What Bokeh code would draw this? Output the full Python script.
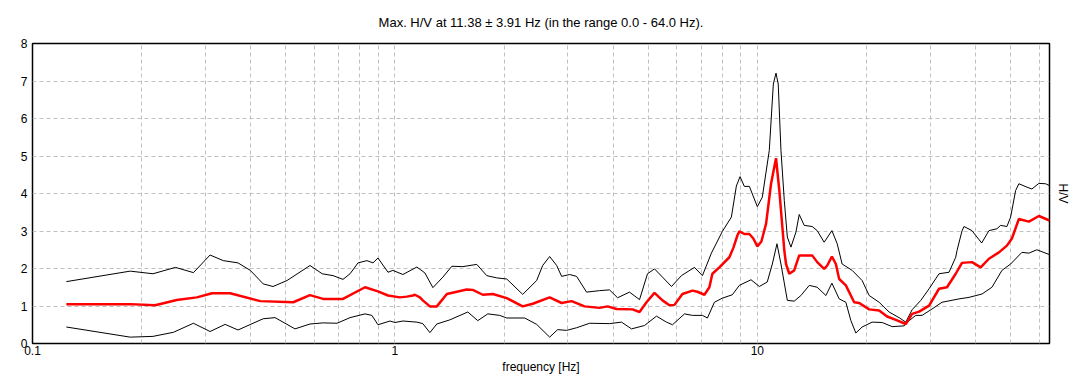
from bokeh.plotting import figure
from bokeh.models import FixedTicker, CustomJSTickFormatter, Range1d, LinearAxis
from bokeh.embed import file_html
from bokeh.resources import INLINE

# ---- data ----
title_text = "Max. H/V at 11.38 \u00b1 3.91 Hz (in the range 0.0 - 64.0 Hz)."
x_label = "frequency [Hz]"
y_label = "H/V"
x_tick_labels = [0.1, 1, 10]
y_ticks = [0, 1, 2, 3, 4, 5, 6, 7, 8]
x_grid = [0.2, 0.3, 0.4, 0.5, 0.6, 0.7, 0.8, 0.9, 1, 2, 3, 4, 5, 6, 7, 8, 9, 10, 20, 30, 40, 50, 60]

freq_mean = [0.124, 0.186, 0.218, 0.250, 0.284, 0.313, 0.351, 0.425, 0.524, 0.583, 0.634, 0.719, 0.827,
             0.898, 0.957, 1.032, 1.079, 1.121, 1.135, 1.172, 1.194, 1.249, 1.305, 1.391, 1.579, 1.640,
             1.748, 1.862, 2.035, 2.252, 2.400, 2.673, 2.884, 3.073, 3.337, 3.670, 3.862, 4.089, 4.525,
             4.731, 4.946, 5.203, 5.474, 5.723, 5.906, 6.214, 6.622, 6.835, 7.145, 7.374, 7.516, 7.857,
             8.372, 8.587, 8.810, 8.920, 9.208, 9.506, 9.75, 10.0, 10.26, 10.57, 10.91, 11.26, 11.50,
             11.87, 12.00, 12.25, 12.64, 13.05, 14.17, 14.63, 15.29, 15.59, 16.06, 16.47, 16.82, 17.55,
             18.50, 19.10, 20.35, 21.68, 22.81, 24.11, 25.68, 26.73, 27.95, 29.78, 31.72, 33.37, 35.27,
             36.70, 39.11, 41.34, 43.56, 46.42, 48.83, 50.40, 52.69, 56.15, 59.83, 64.0]
hv_mean = [1.05, 1.05, 1.02, 1.16, 1.23, 1.34, 1.34, 1.13, 1.10, 1.29, 1.19, 1.19, 1.50,
           1.39, 1.28, 1.23, 1.25, 1.28, 1.30, 1.23, 1.15, 0.99, 0.99, 1.32, 1.44, 1.43,
           1.30, 1.32, 1.21, 0.99, 1.06, 1.23, 1.08, 1.13, 0.99, 0.95, 0.99, 0.92, 0.91,
           0.84, 1.10, 1.35, 1.15, 1.02, 1.03, 1.32, 1.41, 1.38, 1.30, 1.50, 1.86, 2.03,
           2.30, 2.55, 2.88, 2.99, 2.92, 2.92, 2.80, 2.59, 2.72, 3.19, 4.26, 4.94, 4.08,
           2.48, 2.12, 1.86, 1.95, 2.35, 2.35, 2.17, 1.99, 2.08, 2.32, 2.12, 1.72, 1.55,
           1.10, 1.08, 0.91, 0.88, 0.72, 0.63, 0.52, 0.79, 0.85, 1.01, 1.46, 1.50, 1.86,
           2.15, 2.17, 2.03, 2.26, 2.43, 2.61, 2.80, 3.32, 3.25, 3.40, 3.28]

freq_upper = [0.124, 0.186, 0.215, 0.248, 0.278, 0.309, 0.336, 0.369, 0.399, 0.433, 0.461, 0.504, 0.583,
              0.630, 0.675, 0.719, 0.752, 0.791, 0.837, 0.870, 0.898, 0.957, 0.987, 1.052, 1.150, 1.210,
              1.273, 1.356, 1.436, 1.539, 1.682, 1.792, 1.910, 2.035, 2.252, 2.461, 2.557, 2.673, 2.795,
              2.884, 3.034, 3.172, 3.380, 3.670, 3.911, 4.115, 4.440, 4.731, 4.977, 5.203, 5.474, 5.797,
              6.174, 6.707, 7.055, 7.469, 8.008, 8.479, 8.753, 8.961, 9.208, 9.506, 10.0, 10.32, 10.79,
              11.07, 11.26, 11.42, 11.62, 11.87, 12.10, 12.38, 12.78, 13.05, 13.47, 14.17, 14.63, 15.29,
              16.06, 16.61, 17.14, 18.27, 19.46, 20.35, 21.68, 23.10, 24.61, 25.68, 26.73, 28.25, 29.78,
              31.72, 33.80, 35.27, 35.56, 36.70, 37.17, 39.11, 41.59, 43.56, 45.83, 46.91, 48.83, 49.99,
              51.61, 52.69, 55.44, 57.23, 59.83, 62.43, 64.0]
hv_upper = [1.65, 1.93, 1.86, 2.03, 1.89, 2.36, 2.21, 2.15, 1.95, 1.59, 1.52, 1.68, 2.08,
            1.86, 1.81, 1.71, 1.86, 2.15, 2.21, 2.15, 2.28, 1.90, 1.95, 1.84, 2.04, 1.88,
            1.49, 1.77, 2.06, 2.05, 2.11, 1.81, 1.75, 1.72, 1.31, 1.68, 2.08, 2.32, 2.08,
            1.79, 1.84, 1.79, 1.37, 1.41, 1.43, 1.22, 1.37, 1.17, 1.86, 1.99, 1.77, 1.52,
            1.81, 2.03, 1.81, 2.41, 2.99, 3.37, 4.20, 4.45, 4.19, 4.19, 3.65, 3.90, 5.15,
            6.92, 7.21, 6.92, 5.15, 3.81, 2.84, 2.57, 2.97, 3.44, 3.15, 3.12, 3.01, 2.70,
            3.01, 2.66, 2.12, 1.95, 1.68, 1.28, 1.10, 0.84, 0.69, 0.57, 0.90, 1.15, 1.46,
            1.86, 1.90, 2.30, 2.48, 3.00, 3.12, 3.01, 2.68, 3.01, 3.06, 3.15, 3.12, 3.37,
            4.08, 4.26, 4.17, 4.12, 4.27, 4.26, 4.21]

freq_lower = [0.124, 0.186, 0.215, 0.245, 0.278, 0.309, 0.340, 0.369, 0.433, 0.467, 0.530, 0.583, 0.634,
              0.692, 0.752, 0.827, 0.864, 0.898, 0.969, 1.0, 1.052, 1.150, 1.194, 1.249, 1.305, 1.417,
              1.589, 1.693, 1.804, 1.946, 2.035, 2.281, 2.461, 2.673, 2.812, 2.978, 3.172, 3.445, 3.911,
              4.220, 4.497, 4.883, 5.269, 5.615, 5.834, 6.295, 6.622, 7.055, 7.283, 7.613, 8.008, 8.533,
              8.920, 9.608, 10.13, 10.65, 11.00, 11.33, 11.62, 12.10, 12.64, 13.19, 13.91, 14.63, 15.46,
              16.06, 16.82, 17.55, 18.12, 18.70, 19.46, 20.74, 22.10, 23.55, 25.41, 26.23, 27.37, 28.48,
              30.34, 32.33, 36.02, 38.37, 41.68, 44.40, 47.31, 49.99, 53.70, 56.15, 59.06, 64.0]
hv_lower = [0.44, 0.17, 0.19, 0.30, 0.54, 0.32, 0.51, 0.36, 0.66, 0.69, 0.39, 0.52, 0.55,
            0.54, 0.69, 0.79, 0.75, 0.50, 0.60, 0.56, 0.60, 0.57, 0.53, 0.29, 0.52, 0.63,
            0.84, 0.61, 0.79, 0.75, 0.68, 0.68, 0.51, 0.17, 0.37, 0.35, 0.42, 0.54, 0.53,
            0.57, 0.39, 0.48, 0.73, 0.57, 0.50, 0.79, 0.75, 0.75, 0.68, 1.10, 1.21, 1.30,
            1.55, 1.70, 1.52, 1.64, 2.12, 2.66, 2.12, 1.15, 1.13, 1.28, 1.55, 1.50, 1.28,
            1.61, 1.19, 1.10, 0.61, 0.28, 0.44, 0.57, 0.56, 0.45, 0.47, 0.61, 0.75, 0.75,
            0.92, 1.10, 1.19, 1.23, 1.32, 1.50, 1.95, 2.12, 2.43, 2.41, 2.50, 2.37]

FONT = "Liberation Sans"

p = figure(frame_width=1017, frame_height=300, x_axis_type="log",
           x_range=Range1d(0.1, 64.0), y_range=Range1d(0, 8),
           output_backend="svg", toolbar_location=None,
           min_border_left=32, min_border_right=32, min_border_top=43, min_border_bottom=44,
           background_fill_color="white", border_fill_color="white")

p.title.text = title_text
p.title.align = "center"
p.title.vertical_align = "top"
p.title.text_font = FONT
p.title.text_font_size = "13px"
p.title.text_font_style = "normal"
p.title.text_color = "black"
p.title.standoff = 24

p.outline_line_color = "black"
p.outline_line_width = 1.5

# x axis
xa = p.xaxis[0]
xa.ticker = FixedTicker(ticks=x_tick_labels, minor_ticks=[])
xa.formatter = CustomJSTickFormatter(code="return tick.toString();")
xa.axis_label = x_label
xa.axis_label_text_font = FONT
xa.axis_label_text_font_size = "12px"
xa.axis_label_text_font_style = "normal"
xa.axis_label_text_color = "black"
xa.axis_label_standoff = 2
xa.major_label_text_font = FONT
xa.major_label_text_font_size = "12px"
xa.major_label_text_color = "black"
xa.major_label_standoff = 2
xa.major_tick_out = 0
xa.major_tick_in = 0
xa.minor_tick_out = 0
xa.minor_tick_in = 0
xa.axis_line_color = None

# y axis
ya = p.yaxis[0]
ya.ticker = FixedTicker(ticks=y_ticks)
ya.major_label_text_font = FONT
ya.major_label_text_font_size = "12px"
ya.major_label_text_color = "black"
ya.major_label_standoff = 5
ya.major_tick_out = 0
ya.major_tick_in = 0
ya.minor_tick_out = 0
ya.minor_tick_in = 0
ya.axis_line_color = None

# right axis carrying only the H/V title (right-side labels read top to bottom)
ra = LinearAxis(ticker=FixedTicker(ticks=[]), axis_label=y_label)
ra.axis_label_text_font = FONT
ra.axis_label_text_font_size = "12px"
ra.axis_label_text_font_style = "normal"
ra.axis_label_text_color = "black"
ra.axis_label_standoff = 6
ra.major_tick_out = 0
ra.major_tick_in = 0
ra.minor_tick_out = 0
ra.minor_tick_in = 0
ra.axis_line_color = None
p.add_layout(ra, "right")

# grids
p.xgrid.ticker = FixedTicker(ticks=x_grid)
p.ygrid.ticker = FixedTicker(ticks=y_ticks)
for g in (p.xgrid[0], p.ygrid[0]):
    g.grid_line_color = "#c0c0c0"
    g.grid_line_dash = "4 3"
    g.grid_line_width = 1

p.line(freq_upper, hv_upper, line_color="black", line_width=1)
p.line(freq_lower, hv_lower, line_color="black", line_width=1)
p.line(freq_mean, hv_mean, line_color="#ff0000", line_width=2.5)

open("out.html", "w").write(file_html(p, INLINE))
